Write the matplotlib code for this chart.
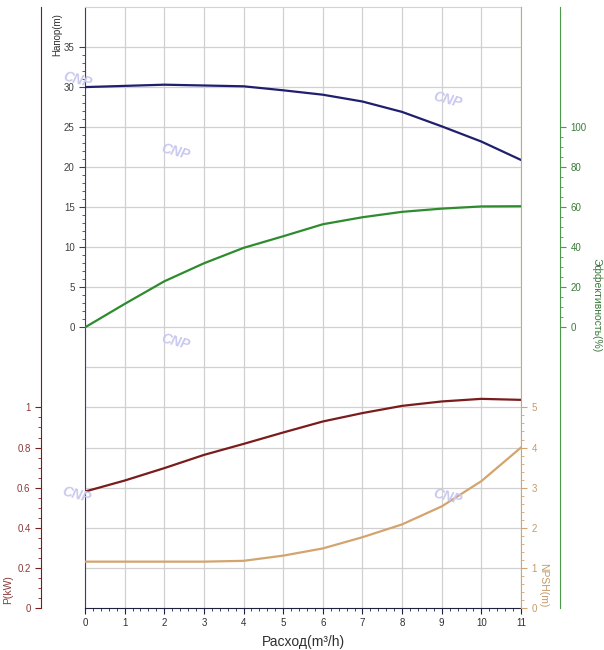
import matplotlib
matplotlib.use("Agg")
import matplotlib.pyplot as plt
import numpy as np
from matplotlib.ticker import MultipleLocator, FixedLocator

plt.rcParams['font.family'] = ['Liberation Sans', 'DejaVu Sans']

# flow (m3/h)
flow = [0, 1, 2, 3, 4, 5, 6, 7, 8, 9, 10, 11]
head = [30.0, 30.15, 30.3, 30.2, 30.1, 29.6, 29.05, 28.2, 26.9, 25.1, 23.2, 20.9]
eff = [0, 11.7, 23.0, 32.0, 39.7, 45.5, 51.5, 55.0, 57.7, 59.3, 60.4, 60.5]
power = [0.58, 0.635, 0.697, 0.763, 0.818, 0.875, 0.93, 0.972, 1.008, 1.03, 1.043, 1.038]
npsh = [1.15, 1.15, 1.15, 1.15, 1.17, 1.3, 1.48, 1.76, 2.08, 2.53, 3.16, 4.0]

c_head = '#1f1f6e'
c_eff = '#2e8b2e'
c_pow = '#7a1c1c'
c_npsh = '#d4a46e'

W, H = 604, 650
fig = plt.figure(figsize=(W / 100, H / 100), dpi=100)
x0, x1, ytop, ybot = 85, 521, 7, 607.7
ax = fig.add_axes([x0 / W, 1 - ybot / H, (x1 - x0) / W, (ybot - ytop) / H])

# head axis (main)
ax.set_xlim(0, 11)
ax.set_ylim(-35, 40)
ax.yaxis.set_major_locator(FixedLocator(np.arange(0, 36, 5)))
ax.yaxis.set_minor_locator(FixedLocator(np.arange(0, 36, 1)))
ax.xaxis.set_major_locator(MultipleLocator(1))
ax.xaxis.set_minor_locator(MultipleLocator(0.2))
for v in np.arange(-30, 40, 5):
    ax.axhline(v, color='#d0d0d0', lw=0.9, zorder=0)
ax.grid(axis='x', color='#d0d0d0', lw=0.9, zorder=0)
ax.spines['left'].set_color('#3a3a80')
ax.spines['bottom'].set_color('#202040')
ax.spines['top'].set_color('#e8c8c8')
ax.spines['right'].set_visible(False)
ax.tick_params(axis='y', which='major', length=4, colors='#3a3a80', labelcolor='#404040', labelsize=7)
ax.tick_params(axis='y', which='minor', length=2, colors='#3a3a80')
ax.tick_params(axis='x', which='major', length=4, colors='#202040', labelcolor='#303030', labelsize=7)
ax.tick_params(axis='x', which='minor', length=2, colors='#202040')
ax.set_xlabel('Расход(m³/h)', fontsize=10, color='#303030', labelpad=5)
ax.plot(flow, head, color=c_head, lw=1.6, zorder=3)

# power axis (outer left)
axp = ax.twinx()
axp.yaxis.set_label_position('left')
axp.yaxis.tick_left()
axp.spines['left'].set_position(('axes', -44 / 436))
for s in ['right', 'top', 'bottom']:
    axp.spines[s].set_visible(False)
axp.spines['left'].set_color(c_pow)
axp.set_ylim(0, 3)
axp.yaxis.set_major_locator(FixedLocator([0, 0.2, 0.4, 0.6, 0.8, 1]))
axp.yaxis.set_minor_locator(FixedLocator(np.arange(0, 1.01, 0.05)))
axp.set_yticklabels(['0', '0.2', '0.4', '0.6', '0.8', '1'])
axp.tick_params(axis='y', which='major', length=4, colors=c_pow, labelcolor='#8b3a3a', labelsize=7)
axp.tick_params(axis='y', which='minor', length=2, colors=c_pow)
axp.plot(flow, power, color=c_pow, lw=1.6, zorder=3)

# NPSH axis (right)
axn = ax.twinx()
for s in ['left', 'top', 'bottom']:
    axn.spines[s].set_visible(False)
axn.spines['right'].set_color(c_npsh)
axn.set_ylim(0, 15)
axn.yaxis.set_major_locator(FixedLocator(np.arange(0, 6, 1)))
axn.yaxis.set_minor_locator(FixedLocator(np.arange(0, 5.01, 0.2)))
axn.tick_params(axis='y', which='major', length=4, colors=c_npsh, labelcolor='#c49a68', labelsize=7)
axn.tick_params(axis='y', which='minor', length=2, colors=c_npsh)
axn.plot(flow, npsh, color=c_npsh, lw=1.6, zorder=3)

# efficiency axis (outer right)
axe = ax.twinx()
axe.spines['right'].set_position(('axes', (560 - x0) / 436))
for s in ['left', 'top', 'bottom']:
    axe.spines[s].set_visible(False)
axe.spines['right'].set_color('#4a9a4a')
axe.set_ylim(-140, 160)
axe.yaxis.set_major_locator(FixedLocator(np.arange(0, 101, 20)))
axe.yaxis.set_minor_locator(FixedLocator(np.arange(0, 101, 5)))
axe.tick_params(axis='y', which='major', length=4, colors='#4a9a4a', labelcolor='#3a7a3a', labelsize=7)
axe.tick_params(axis='y', which='minor', length=2, colors='#4a9a4a')
axe.plot(flow, eff, color=c_eff, lw=1.6, zorder=3)

# axis titles
fig.text(57 / W, 1 - 35 / H, 'Напор(m)', rotation=90, ha='center', va='center', fontsize=7, color='#303030')
fig.text(8 / W, 1 - 590 / H, 'P(kW)', rotation=90, ha='center', va='center', fontsize=7.5, color='#8b3a3a')
fig.text(543 / W, 1 - 585 / H, 'NPSH(m)', rotation=270, ha='center', va='center', fontsize=7.5, color='#c49a68')
fig.text(597 / W, 1 - 305 / H, 'Эффективность(%)', rotation=270, ha='center', va='center', fontsize=7.5, color='#3a7a3a')

# watermarks
for px, py in [(77, 80), (175, 152), (175, 342), (76, 495), (447, 100), (447, 497)]:
    fig.text(px / W, 1 - py / H, 'CNP', rotation=-15, ha='center', va='center', fontsize=10,
             fontweight='bold', fontstyle='italic', color='#c8c8ee', zorder=5)

fig.savefig('out.png', dpi=100)
